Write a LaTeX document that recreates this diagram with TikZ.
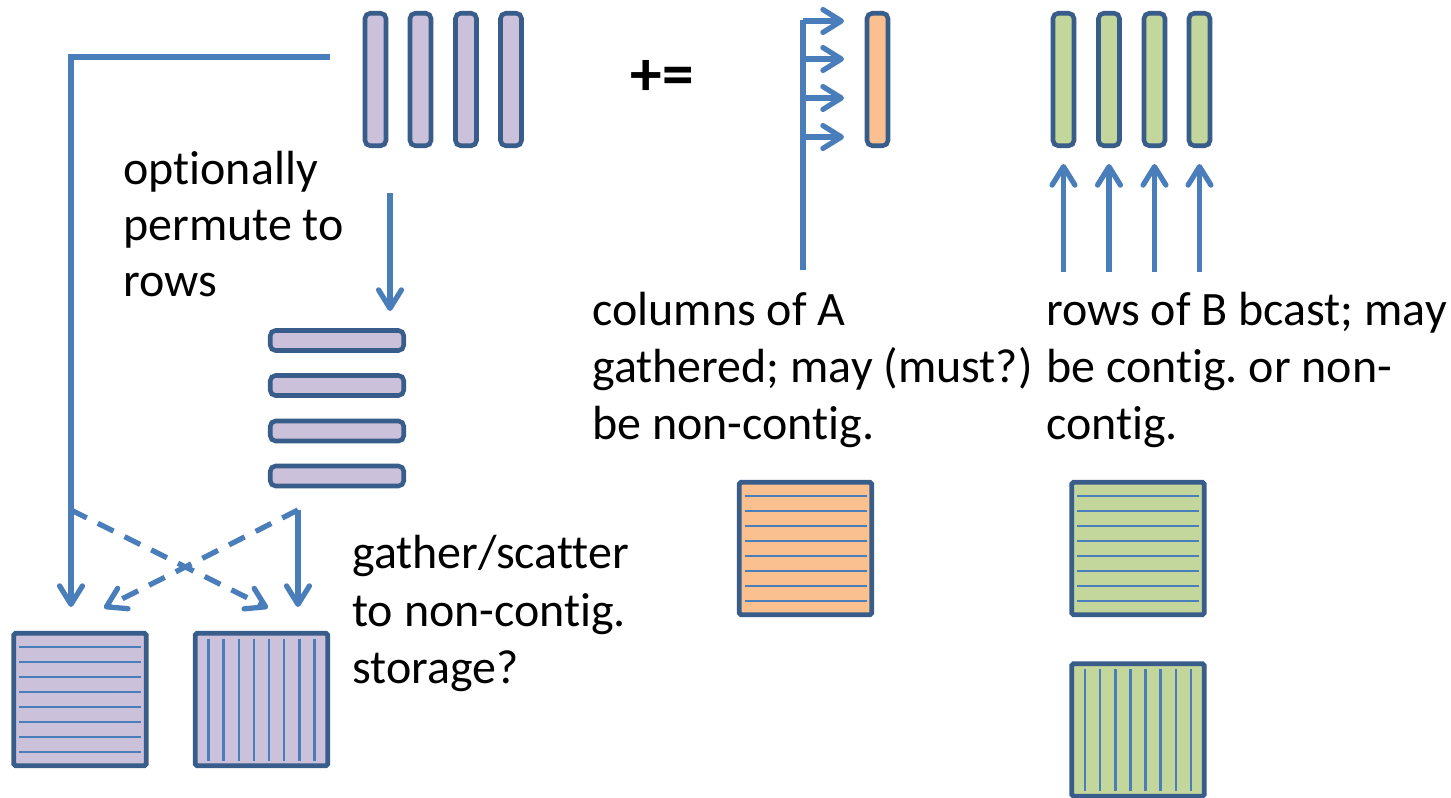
\documentclass[tikz,border=0pt]{standalone}
\usepackage{fontspec}
\setmainfont{Carlito}[Ligatures={NoCommon}]
\usetikzlibrary{arrows.meta,calc}
\frenchspacing

\definecolor{lilac}{HTML}{CCC1DA}
\definecolor{peach}{HTML}{FAC090}
\definecolor{sage}{HTML}{C3D69B}
\definecolor{edge}{HTML}{385D8A}
\definecolor{wire}{HTML}{4A7EBB}

\tikzset{
  vbar/.style={draw=edge, line width=2.6pt, rounded corners=3pt,
    minimum width=0.42cm, minimum height=2.65cm, inner sep=0pt, outer sep=0pt},
  hbar/.style={draw=edge, line width=2.6pt, rounded corners=3pt,
    minimum width=2.67cm, minimum height=0.40cm, inner sep=0pt, outer sep=0pt},
  matbox/.style={draw=edge, line width=2.8pt, rounded corners=1pt,
    minimum width=2.65cm, minimum height=2.65cm, inner sep=0pt, outer sep=0pt},
  wireline/.style={draw=wire, line width=3pt},
  arr/.style={-{Straight Barb[length=10.5pt,width=13pt,line cap=round,line join=round]}},
  dashy/.style={dash pattern=on 10pt off 7pt},
  hatch/.style={draw=wire, line width=1.4pt},
  txt/.style={anchor=base west, inner sep=0pt, font=\fontsize{27.3pt}{32.7pt}\selectfont},
}

% eight horizontal stripes inside a square node
\newcommand{\rowstripes}[1]{%
  \foreach \k in {0,...,7}
    \draw[hatch] ($(#1.center)+(-61,-52.5+15*\k)$) -- ($(#1.center)+(61,-52.5+15*\k)$);}
% eight vertical stripes inside a square node
\newcommand{\colstripes}[1]{%
  \foreach \k in {0,...,7}
    \draw[hatch] ($(#1.center)+(-53+15.14*\k,-61)$) -- ($(#1.center)+(-53+15.14*\k,61)$);}

\begin{document}
\begin{tikzpicture}[x=0.02cm, y=-0.02cm]
\useasboundingbox (0,0) rectangle (1451,798);
\fill[white] (0,0) rectangle (1451,798);

% ---------- matrix C: columns, then permuted to rows ----------
\foreach \i/\x in {1/375.5, 2/420.5, 3/466, 4/511}
  \node[vbar, fill=lilac] (c\i) at (\x,79.5) {};
\foreach \i/\y in {1/340.5, 2/385.5, 3/431, 4/476}
  \node[hbar, fill=lilac] (r\i) at (337,\y) {};

\node[txt] (t1a) at (123,184) {optionally};
\node[txt] (t1b) at (123,240) {permute to};
\node[txt] (t1c) at (123,296) {rows};

\coordinate (permtop) at (390,193);
\coordinate (permtip) at (390,311);
\draw[wireline, arr] (permtop) -- (permtip);

% ---------- storage of C ----------
\node[matbox, fill=lilac] (cr) at (80,699.5) {};
\node[matbox, fill=lilac] (cc) at (261.5,699.5) {};
\rowstripes{cr}
\colstripes{cc}

\coordinate (lstart) at (330,57);
\coordinate (lcorner) at (71,57);
\coordinate (ljoin) at (71,510);
\coordinate (ltip) at (71,607);
\coordinate (rjoin) at (298,510);
\coordinate (rtip) at (298,607);
\coordinate (xtipL) at (104,608);
\coordinate (xtipR) at (268,608);

\draw[wireline, arr] (lstart) -- (lcorner) -- (ltip);
\draw[wireline, arr] (rjoin) -- (rtip);
\draw[wireline, dashy, arr] (ljoin) -- (xtipR);
\draw[wireline, dashy, arr] (rjoin) -- (xtipL);

\node[txt] (t2a) at (352,568) {gather/scatter};
\node[txt] (t2b) at (352,626) {to non-contig.};
\node[txt] (t2c) at (352,683) {storage?};

% ---------- update operator ----------
\node[inner sep=0pt, font=\fontsize{36pt}{40pt}\selectfont\bfseries] (pluseq) at (662,78) {+=};

% ---------- column of A ----------
\node[vbar, fill=peach] (acol) at (877.5,79.5) {};
\coordinate (abot) at (803,270);
\coordinate (atop) at (803,20);
\draw[wireline] (abot) -- (atop);
\foreach \j/\y in {1/21, 2/59, 3/98, 4/137} {
  \coordinate (as\j) at (803,\y);
  \coordinate (ae\j) at (844,\y);
  \draw[wireline, arr] (as\j) -- (ae\j);
}

\node[txt] (t3a) at (592,325) {columns of A};
\node[txt] (t3b) at (592,382) {gathered; may (must?)};
\node[txt] (t3c) at (592,439) {be non-contig.};

\node[matbox, fill=peach] (am) at (805.5,548.5) {};
\rowstripes{am}

% ---------- rows of B ----------
\foreach \i/\x in {1/1063.5, 2/1109, 3/1154.5, 4/1199.5} {
  \node[vbar, fill=sage] (b\i) at (\x,79.5) {};
  \coordinate (bs\i) at (\x,272);
  \coordinate (be\i) at (\x,164);
  \draw[wireline, arr] (bs\i) -- (be\i);
}

\node[txt] (t4a) at (1046,325) {rows of B bcast; may};
\node[txt] (t4b) at (1046,382) {be contig. or non-};
\node[txt] (t4c) at (1046,439) {contig.};

\node[matbox, fill=sage] (bm) at (1138,548.5) {};
\rowstripes{bm}
\node[matbox, fill=sage] (bn) at (1138,730) {};
\colstripes{bn}
\end{tikzpicture}
\end{document}
